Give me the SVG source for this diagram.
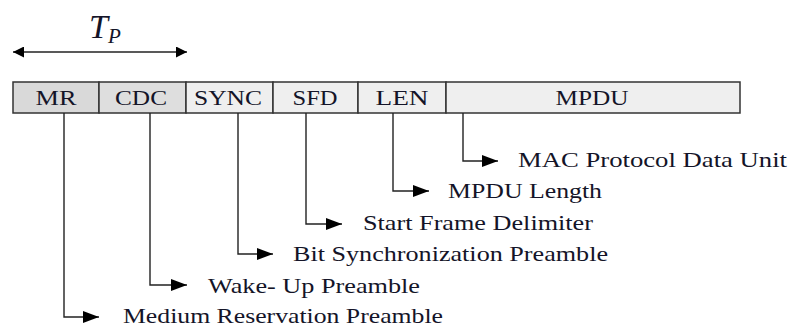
<svg xmlns="http://www.w3.org/2000/svg" width="790" height="327" viewBox="0 0 790 327">
<defs>
<style>
.box{stroke:#333;stroke-width:1.5}
.ln{stroke:#222;stroke-width:1.4;fill:none}
</style>
<marker id="ah" viewBox="0 0 16 12" refX="16" refY="6" markerWidth="16" markerHeight="12" markerUnits="userSpaceOnUse" orient="auto">
<path d="M0,0 L16,6 L0,12 Z" fill="#000"/>
</marker>
<marker id="ah2" viewBox="0 0 11 11" refX="11" refY="5.5" markerWidth="11" markerHeight="11" markerUnits="userSpaceOnUse" orient="auto-start-reverse">
<path d="M0,0 L11,5.5 L0,11 Z" fill="#000"/>
</marker>
</defs>
<rect width="790" height="327" fill="#fff"/>
<g id="tp" font-family="Liberation Serif" font-style="italic" fill="#141428">
<line class="ln" x1="13" y1="52" x2="187" y2="52" marker-start="url(#ah2)" marker-end="url(#ah2)"/>
<text x="89" y="38" font-size="34">T</text>
<text x="108" y="43" font-size="21">P</text>
</g>
<g font-family="Liberation Serif" font-size="21" fill="#141428" text-anchor="middle">
<g id="mr"><rect class="box" x="13" y="82" width="86" height="31" fill="#d9d9d9"/><text x="56" y="105" textLength="41" lengthAdjust="spacingAndGlyphs">MR</text></g>
<g id="cdc"><rect class="box" x="99" y="82" width="87" height="31" fill="#dedede"/><text x="141" y="105" textLength="52" lengthAdjust="spacingAndGlyphs">CDC</text></g>
<g id="sync"><rect class="box" x="186" y="82" width="87" height="31" fill="#efefef"/><text x="228" y="105" textLength="68" lengthAdjust="spacingAndGlyphs">SYNC</text></g>
<g id="sfd"><rect class="box" x="273" y="82" width="85" height="31" fill="#efefef"/><text x="315" y="105" textLength="45" lengthAdjust="spacingAndGlyphs">SFD</text></g>
<g id="len"><rect class="box" x="358" y="82" width="88" height="31" fill="#efefef"/><text x="402" y="105" textLength="53" lengthAdjust="spacingAndGlyphs">LEN</text></g>
<g id="mpdu"><rect class="box" x="446" y="82" width="294" height="31" fill="#efefef"/><text x="592" y="105" textLength="73" lengthAdjust="spacingAndGlyphs">MPDU</text></g>
</g>
<g id="connectors">
<polyline class="ln" points="64,113 64,317 99,317" marker-end="url(#ah)"/>
<polyline class="ln" points="150,113 150,285 187,285" marker-end="url(#ah)"/>
<polyline class="ln" points="238,113 238,254 273,254" marker-end="url(#ah)"/>
<polyline class="ln" points="306,113 306,224 342,224" marker-end="url(#ah)"/>
<polyline class="ln" points="393,113 393,191 429,191" marker-end="url(#ah)"/>
<polyline class="ln" points="463,113 463,161 498,161" marker-end="url(#ah)"/>
</g>
<g id="labels" font-family="Liberation Serif" font-size="21" fill="#141428">
<text x="518" y="167" textLength="269" lengthAdjust="spacingAndGlyphs">MAC Protocol  Data Unit</text>
<text x="448" y="198" textLength="154" lengthAdjust="spacingAndGlyphs">MPDU Length</text>
<text x="363" y="230" textLength="230" lengthAdjust="spacingAndGlyphs">Start Frame Delimiter</text>
<text x="293" y="261" textLength="315" lengthAdjust="spacingAndGlyphs">Bit Synchronization Preamble</text>
<text x="208" y="293" textLength="212" lengthAdjust="spacingAndGlyphs">Wake- Up Preamble</text>
<text x="123" y="323" textLength="320" lengthAdjust="spacingAndGlyphs">Medium Reservation  Preamble</text>
</g>
</svg>
